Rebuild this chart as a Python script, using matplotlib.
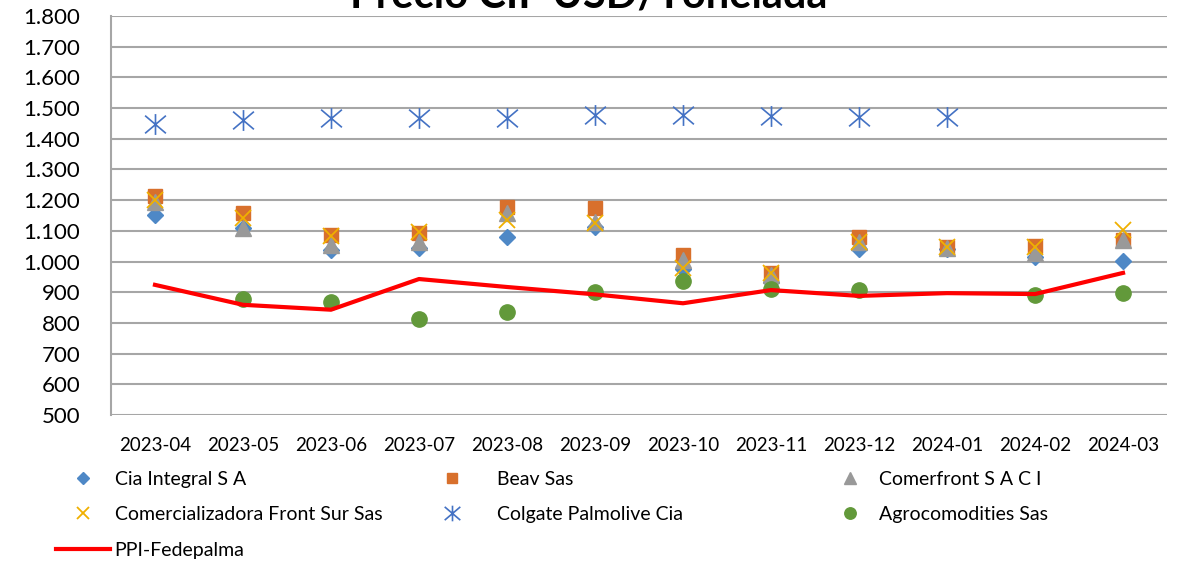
import numpy as np
import matplotlib
matplotlib.use("Agg")
import matplotlib.pyplot as plt
from matplotlib.path import Path
from matplotlib.ticker import FuncFormatter

# data (USD/tonelada)
meses = ['2023-04', '2023-05', '2023-06', '2023-07', '2023-08', '2023-09',
         '2023-10', '2023-11', '2023-12', '2024-01', '2024-02', '2024-03']
nan = np.nan
cia_integral = [1153, 1109, 1038, 1045, 1080, 1114, 975, 932, 1042, 1040, 1015, 1002]
beav = [1213, 1158, 1086, 1093, 1178, 1174, 1021, 963, 1080, 1047, 1050, 1070]
comerfront = [1194, 1109, 1054, 1063, 1158, 1129, 1005, 956, 1064, 1044, 1028, 1070]
front_sur = [1200, 1142, 1083, 1096, 1135, 1126, 980, 962, 1064, 1047, 1047, 1103]
colgate = [1448, 1461, 1468, 1468, 1468, 1477, 1477, 1474, 1471, 1471, nan, nan]
agrocomodities = [nan, 878, 868, 813, 836, 901, 937, 911, 907, nan, 891, 898]
ppi = [924, 859, 843, 943, 917, 893, 864, 907, 888, 897, 894, 963]

plt.rcParams['font.family'] = ['Lato', 'DejaVu Sans']

fig = plt.figure(figsize=(11.78, 5.63), dpi=100)
ax = fig.add_axes([0.0942, 0.2629, 0.8965, 0.7087])

x = np.arange(len(meses))

# asterisk marker like excel's "star"
star = Path([(0, -1), (0, 1), (-1, -0.85), (1, 0.85), (-1, 0.85), (1, -0.85)],
            [Path.MOVETO, Path.LINETO] * 3)

h1, = ax.plot(x, cia_integral, ls='none', marker='D', ms=8.5, color='#4E88C6', label='Cia Integral S A')
h2, = ax.plot(x, beav, ls='none', marker='s', ms=10, color='#D8702C', label='Beav Sas')
h3, = ax.plot(x, comerfront, ls='none', marker='^', ms=11, color='#999999', label='Comerfront S A C I')
h4, = ax.plot(x, front_sur, ls='none', marker='x', ms=11, mew=1.3, color='#F0B000',
              label='Comercializadora Front Sur Sas')
h5, = ax.plot(x, colgate, ls='none', marker=star, ms=15, mew=1.2, mfc='none', color='#4472C4',
              label='Colgate Palmolive Cia')
h6, = ax.plot(x, agrocomodities, ls='none', marker='o', ms=11, color='#62993A', label='Agrocomodities Sas')
h7, = ax.plot(x, ppi, color='#FF0000', lw=3, label='PPI-Fedepalma')

ax.set_xlim(-0.5, len(meses) - 0.5)
ax.set_ylim(500, 1800)
ax.set_yticks(np.arange(500, 1801, 100))
ax.yaxis.set_major_formatter(FuncFormatter(lambda v, p: f'{int(v):,}'.replace(',', '.')))
ax.set_xticks(x)
ax.set_xticklabels(meses)
ax.tick_params(axis='both', length=0)
ax.tick_params(axis='y', pad=22, labelsize=16)
ax.tick_params(axis='x', pad=16, labelsize=13.5)

ax.grid(axis='y', color='#A6A6A6', lw=1.5)
ax.set_axisbelow(True)
for s in ['top', 'right', 'bottom']:
    ax.spines[s].set_visible(False)
ax.spines['left'].set_color('#A6A6A6')
ax.spines['left'].set_linewidth(1.5)

# title is partly cut off at the top in the reference
fig.text(0.5, 1 - 8 / 563, 'Precio CIF USD/Tonelada', ha='center', va='baseline',
         fontsize=30, fontweight='bold')

# legend in three columns (handle start x, handle length)
cols = [([h1, h4, h7], 0.0475, 2.8), ([h2, h5], 0.349, 4.2), ([h3, h6], 0.700, 2.6)]
for hs, xpos, hl in cols:
    fig.legend(handles=hs, loc='upper left', bbox_to_anchor=(xpos, 0.164),
               frameon=False, fontsize=14, handlelength=hl, handletextpad=0.22,
               labelspacing=0.95, borderaxespad=0, borderpad=0, markerscale=0.75)

fig.savefig('out.png', dpi=100)
